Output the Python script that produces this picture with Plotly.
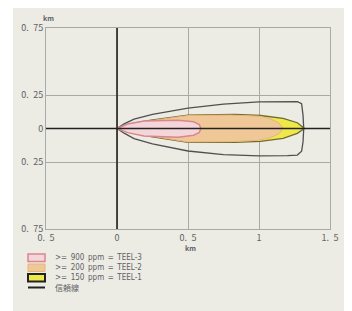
import plotly.graph_objects as go

# ---- data (km) ----
outer_x = [0, 0.05, 0.12, 0.25, 0.5, 0.75, 1.0, 1.2, 1.27, 1.30, 1.31, 1.315, 1.31, 1.30, 1.27, 1.2, 1.0, 0.75, 0.5, 0.25, 0.12, 0.05, 0]
outer_y = [0, 0.035, 0.07, 0.105, 0.152, 0.182, 0.198, 0.202, 0.2, 0.185, 0.1, 0, -0.1, -0.17, -0.198, -0.203, -0.205, -0.195, -0.168, -0.115, -0.075, -0.035, 0]

teel1_x = [0, 0.12, 0.24, 0.5, 0.83, 1.01, 1.17, 1.27, 1.32, 1.27, 1.17, 1.01, 0.83, 0.5, 0.24, 0.12, 0]
teel1_y = [0, 0.04, 0.063, 0.1, 0.105, 0.097, 0.076, 0.043, 0, -0.036, -0.073, -0.096, -0.103, -0.103, -0.061, -0.036, 0]

teel2_x = [0, 0.12, 0.25, 0.5, 0.8, 1.0, 1.08, 1.14, 1.17, 1.14, 1.08, 1.0, 0.8, 0.5, 0.25, 0.12, 0]
teel2_y = [0, 0.037, 0.06, 0.097, 0.1, 0.092, 0.072, 0.042, 0, -0.04, -0.068, -0.088, -0.098, -0.1, -0.058, -0.034, 0]

teel3_x = [0, 0.075, 0.19, 0.43, 0.54, 0.58, 0.59, 0.58, 0.54, 0.43, 0.19, 0.075, 0]
teel3_y = [0, 0.033, 0.056, 0.062, 0.05, 0.03, 0, -0.03, -0.05, -0.065, -0.056, -0.031, 0]

SP = "\u2002"
x_ticks = [-0.5, 0, 0.5, 1, 1.5]
x_tick_text = ["0." + SP + "5", "0", "0." + SP + "5", "1", "1." + SP + "5"]
y_ticks = [-0.75, -0.25, 0, 0.25, 0.75]
y_tick_text = ["0." + SP + "75", "0." + SP + "25", "0", "0." + SP + "25", "0." + SP + "75"]

legend_labels = [">=" + SP + "900" + SP + "ppm" + SP + "=" + SP + "TEEL-3",
                 ">=" + SP + "200" + SP + "ppm" + SP + "=" + SP + "TEEL-2",
                 ">=" + SP + "150" + SP + "ppm" + SP + "=" + SP + "TEEL-1",
                 "信頼線"]

# ---- styles ----
BEIGE = "#ecebe4"
FONT = "Noto Sans CJK JP"
LEG_FONT = "DejaVu Sans Condensed, Noto Sans CJK JP"
TXT = "#5f6266"
C_PINK, L_PINK = "#f4d6da", "#d9868f"
C_ORANGE, L_ORANGE = "#f0c898", "#e8b47a"
C_YELLOW, L_YELLOW = "#eee84a", "#6e6a32"

OFF = 8  # page body margin
W, H = 352 - OFF, 311 - OFF
L, R, T, B = 46 - OFF, 22, 28 - OFF, 82
PW, PH = W - L - R, H - T - B


def px(xp):  # page pixel -> paper x
    return (xp - OFF - L) / PW


def py(yp):  # page pixel -> paper y
    return (H - B - (yp - OFF)) / PH


fig = go.Figure()
fig.add_trace(go.Scatter(x=outer_x, y=outer_y, mode="lines",
                         line=dict(color="#505050", width=1.3), hoverinfo="skip"))
fig.add_trace(go.Scatter(x=teel1_x, y=teel1_y, mode="lines", fill="toself",
                         fillcolor=C_YELLOW, line=dict(color=L_YELLOW, width=1.3), hoverinfo="skip"))
fig.add_trace(go.Scatter(x=teel2_x, y=teel2_y, mode="lines", fill="toself",
                         fillcolor=C_ORANGE, line=dict(color=L_ORANGE, width=1), hoverinfo="skip"))
fig.add_trace(go.Scatter(x=teel3_x, y=teel3_y, mode="lines", fill="toself",
                         fillcolor=C_PINK, line=dict(color=L_PINK, width=1.5), hoverinfo="skip"))

shapes = [
    # white strip of the scanned page on the left
    dict(type="rect", xref="paper", yref="paper", x0=px(-20), x1=px(13), y0=py(400), y1=py(-20),
         fillcolor="white", line_width=0, layer="below"),
    # main axes through origin
    dict(type="line", xref="x", yref="paper", x0=0, x1=0, y0=0, y1=1,
         line=dict(color="#222", width=1.6), layer="above"),
    dict(type="line", xref="paper", yref="y", x0=0, x1=1, y0=0, y1=0,
         line=dict(color="#222", width=1.6), layer="above"),
]

# legend swatches
rows = [257.5, 267.5, 277.5, 287.5]
sw = [(C_PINK, L_PINK, 1.5), (C_ORANGE, L_ORANGE, 1), (C_YELLOW, "#222", 2)]
for (fc, lc, lw), yc in zip(sw, rows[:3]):
    shapes.append(dict(type="rect", xref="paper", yref="paper", x0=px(28), x1=px(45),
                       y0=py(yc + 4), y1=py(yc - 3.5), fillcolor=fc, line=dict(color=lc, width=lw)))
shapes.append(dict(type="line", xref="paper", yref="paper", x0=px(28), x1=px(45),
                   y0=py(rows[3]), y1=py(rows[3]), line=dict(color="#222", width=2)))

annotations = [dict(xref="paper", yref="paper", x=px(53), y=py(yc), text=t, showarrow=False,
                    xanchor="left", yanchor="middle", font=dict(family=LEG_FONT, size=8, color=TXT))
               for t, yc in zip(legend_labels, rows)]
annotations.append(dict(xref="paper", yref="paper", x=px(48), y=py(18), text="<b>km</b>", showarrow=False,
                        xanchor="center", yanchor="middle", font=dict(family=FONT, size=7, color=TXT)))
annotations.append(dict(xref="paper", yref="paper", x=px(190), y=py(248), text="<b>km</b>", showarrow=False,
                        xanchor="center", yanchor="middle", font=dict(family=FONT, size=7, color=TXT)))

fig.update_layout(
    width=W, height=H, margin=dict(l=L, r=R, t=T, b=B),
    paper_bgcolor=BEIGE, plot_bgcolor=BEIGE, showlegend=False,
    font=dict(family=FONT, size=9, color=TXT),
    shapes=shapes, annotations=annotations,
    xaxis=dict(range=[-0.5, 1.5], tickvals=x_ticks, ticktext=x_tick_text, showgrid=True,
               gridcolor="#a9a9a6", gridwidth=1, zeroline=False, showline=True, mirror=True,
               linecolor="#a9a9a6", linewidth=1, ticks="", tickfont=dict(size=9, color=TXT),
               fixedrange=True),
    yaxis=dict(range=[-0.75, 0.75], tickvals=y_ticks, ticktext=y_tick_text, showgrid=True,
               gridcolor="#a9a9a6", gridwidth=1, zeroline=False, showline=True, mirror=True,
               linecolor="#a9a9a6", linewidth=1, ticks="", tickfont=dict(size=9, color=TXT),
               fixedrange=True),
)

fig.write_html("out.html", config={"displayModeBar": False})
